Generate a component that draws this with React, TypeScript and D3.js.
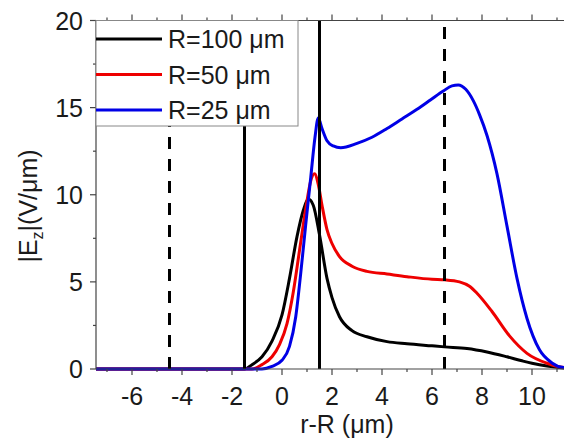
import React from "react";
import * as d3 from "d3";

// r-R (um) vs |Ez| (V/um)
const xR100 = [-7.44, -1.5, -1.2, -0.8, -0.4, 0, 0.3, 0.6, 0.85, 1.05, 1.25, 1.5, 1.8, 2.0, 2.3, 2.8, 3.4, 4.2, 5.0, 6.0, 6.5, 7.4, 8.2, 9.0, 9.6, 10.0, 10.6, 11.2, 12.5];
const yR100 = [0, 0, 0.25, 0.7, 1.6, 3.1, 5.2, 7.6, 9.1, 9.75, 9.4, 7.7, 5.2, 4.1, 3.0, 2.2, 1.85, 1.57, 1.45, 1.33, 1.27, 1.18, 0.98, 0.7, 0.47, 0.33, 0.17, 0.07, 0];

const xR50 = [-7.44, -1.2, -0.8, -0.4, -0.1, 0.2, 0.45, 0.7, 0.95, 1.15, 1.3, 1.45, 1.6, 1.8, 2.0, 2.3, 2.8, 3.4, 4.2, 5.0, 6.0, 6.5, 7.1, 7.5, 7.8, 8.4, 9.1, 9.8, 10.6, 11.2, 12.5];
const yR50 = [0, 0, 0.25, 0.7, 1.4, 2.6, 4.4, 6.8, 9.2, 10.8, 11.2, 10.6, 9.4, 8.0, 7.2, 6.45, 5.9, 5.6, 5.45, 5.3, 5.15, 5.12, 5.0, 4.75, 4.35, 3.3, 1.9, 0.9, 0.33, 0.1, 0];

const xR25 = [-7.44, -0.8, -0.4, 0, 0.3, 0.55, 0.75, 0.95, 1.15, 1.32, 1.45, 1.6, 1.8, 2.05, 2.35, 3.0, 3.6, 4.2, 4.8, 5.4, 5.95, 6.45, 6.8, 7.05, 7.35, 7.65, 7.9, 8.2, 8.6, 9.0, 9.4, 9.8, 10.3, 10.8, 11.2, 12.5];
const yR25 = [0, 0, 0.15, 0.5, 1.3, 3.0, 5.5, 8.3, 11.0, 13.3, 14.4, 13.8, 13.1, 12.8, 12.7, 12.95, 13.3, 13.8, 14.35, 14.9, 15.45, 15.95, 16.25, 16.3, 16.05, 15.4, 14.6, 13.4, 11.2, 8.2, 5.2, 2.9, 1.1, 0.35, 0.1, 0];

const seriesNames = ["R=100 \u03bcm", "R=50 \u03bcm", "R=25 \u03bcm"];
const seriesColors = ["#000000", "#ee0000", "#0000e6"];

const solidLines = [-1.5, 1.5];
const dashedLines = [-4.5, 6.5];

const xMajor = [-6, -4, -2, 0, 2, 4, 6, 8, 10, 12];
const xLabels = [-6, -4, -2, 0, 2, 4, 6, 8, 10];
const xMinor = [-7, -5, -3, -1, 1, 3, 5, 7, 9, 11];
const yMajor = [0, 5, 10, 15, 20];
const yMinor = [2.5, 7.5, 12.5, 17.5];

const FONT = "'Liberation Sans', Arial, sans-serif";

export default function App() {
  const width = 564;
  const height = 444;

  const x = d3.scaleLinear().domain([-7.44, 12.56]).range([96, 596]);
  const y = d3.scaleLinear().domain([0, 20]).range([369, 20.5]);

  const series = [
    xR100.map((v, i) => [v, yR100[i]]),
    xR50.map((v, i) => [v, yR50[i]]),
    xR25.map((v, i) => [v, yR25[i]]),
  ];

  const line = d3
    .line<number[]>()
    .x((d) => x(d[0]))
    .y((d) => y(d[1]))
    .curve(d3.curveMonotoneX);

  const axisColor = "#444";
  const y0 = y(0);
  const yTop = y(20);

  return (
    <svg
      width={width}
      height={height}
      style={{ position: "absolute", left: 0, top: 0, background: "#fff" }}
      fontFamily={FONT}
    >
      {/* curves */}
      {series.map((s, i) => (
        <path
          key={i}
          d={line(s) || ""}
          fill="none"
          stroke={seriesColors[i]}
          strokeWidth={3}
          strokeLinejoin="round"
        />
      ))}

      {/* reference lines */}
      {solidLines.map((v) => (
        <line key={"s" + v} x1={x(v)} x2={x(v)} y1={y0} y2={yTop} stroke="#000" strokeWidth={3} />
      ))}
      {dashedLines.map((v) => (
        <line
          key={"d" + v}
          x1={x(v)}
          x2={x(v)}
          y1={y0}
          y2={yTop}
          stroke="#000"
          strokeWidth={3}
          strokeDasharray="12,10"
        />
      ))}

      {/* axes */}
      <line x1={x.range()[0]} x2={x.range()[1]} y1={y0} y2={y0} stroke={axisColor} strokeWidth={1.2} />
      <line x1={x.range()[0]} x2={x.range()[1]} y1={yTop} y2={yTop} stroke={axisColor} strokeWidth={1.2} />
      <line x1={x.range()[0]} x2={x.range()[0]} y1={y0} y2={yTop} stroke={axisColor} strokeWidth={1.2} />

      {xMajor.map((t) => (
        <g key={"xm" + t}>
          <line x1={x(t)} x2={x(t)} y1={y0} y2={y0 + 6} stroke={axisColor} strokeWidth={1.2} />
          <line x1={x(t)} x2={x(t)} y1={yTop} y2={yTop - 6} stroke={axisColor} strokeWidth={1.2} />
        </g>
      ))}
      {xLabels.map((t) => (
        <text key={"xl" + t} x={x(t)} y={405} textAnchor="middle" fontSize={25} fill="#1a1a1a">
          {t < 0 ? "-" + Math.abs(t) : t}
        </text>
      ))}
      {xMinor.map((t) => (
        <g key={"xn" + t}>
          <line x1={x(t)} x2={x(t)} y1={y0} y2={y0 + 3} stroke={axisColor} strokeWidth={1.2} />
          <line x1={x(t)} x2={x(t)} y1={yTop} y2={yTop - 3} stroke={axisColor} strokeWidth={1.2} />
        </g>
      ))}
      {yMajor.map((t) => (
        <g key={"ym" + t}>
          <line x1={96} x2={90} y1={y(t)} y2={y(t)} stroke={axisColor} strokeWidth={1.2} />
          <text x={83} y={y(t) + 9} textAnchor="end" fontSize={25} fill="#1a1a1a">
            {t}
          </text>
        </g>
      ))}
      {yMinor.map((t) => (
        <line key={"yn" + t} x1={96} x2={93} y1={y(t)} y2={y(t)} stroke={axisColor} strokeWidth={1.2} />
      ))}

      {/* axis titles */}
      <text x={347} y={433} textAnchor="middle" fontSize={25} fill="#1a1a1a">
        r-R ({"\u03bc"}m)
      </text>
      <text
        transform={`translate(37 ${206}) rotate(-90)`}
        textAnchor="middle"
        fontSize={25}
        fill="#1a1a1a"
      >
        |E
        <tspan fontSize={16} dy={6}>z</tspan>
        <tspan dy={-6}>|(V/{"\u03bc"}m)</tspan>
      </text>

      {/* legend */}
      <rect x={96} y={20.5} width={202} height={105.5} fill="#fff" stroke="#888" strokeWidth={1} />
      {seriesNames.map((name, i) => {
        const cy = 39 + i * 35.5;
        return (
          <g key={name}>
            <line x1={96} x2={162} y1={cy} y2={cy} stroke={seriesColors[i]} strokeWidth={3} />
            <text x={168} y={cy + 9} fontSize={25} fill="#1a1a1a">
              {name}
            </text>
          </g>
        );
      })}
    </svg>
  );
}
